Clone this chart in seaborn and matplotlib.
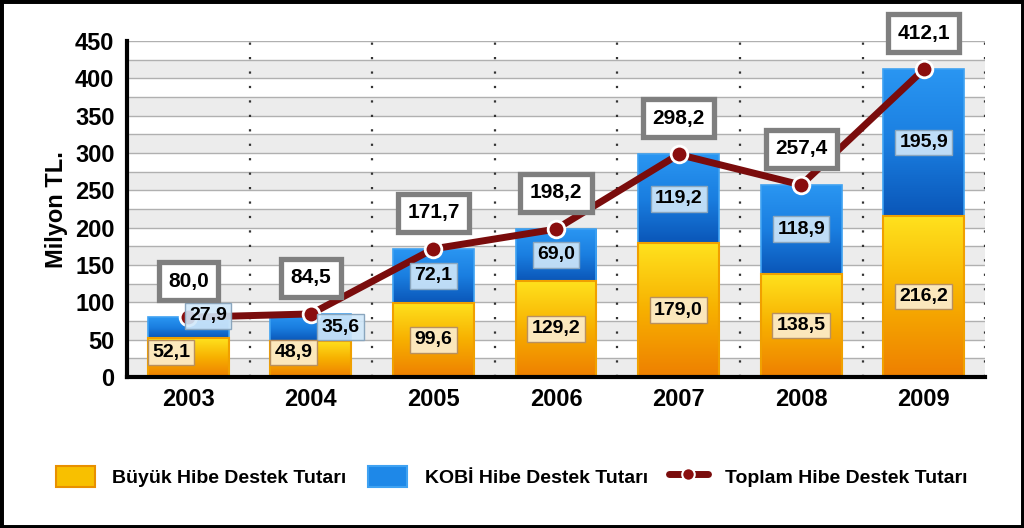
import numpy as np
import pandas as pd
import matplotlib
matplotlib.use("Agg")
import matplotlib.pyplot as plt
import seaborn as sns
from matplotlib.colors import LinearSegmentedColormap
from matplotlib.patches import Rectangle, Patch
from matplotlib.lines import Line2D

# ---- data ----
years = ["2003", "2004", "2005", "2006", "2007", "2008", "2009"]
buyuk = [52.1, 48.9, 99.6, 129.2, 179.0, 138.5, 216.2]
kobi = [27.9, 35.6, 72.1, 69.0, 119.2, 118.9, 195.9]
toplam = [80.0, 84.5, 171.7, 198.2, 298.2, 257.4, 412.1]
y_ticks = [0, 50, 100, 150, 200, 250, 300, 350, 400, 450]
legend_labels = ["Büyük Hibe Destek Tutarı", "KOBİ Hibe Destek Tutarı", "Toplam Hibe Destek Tutarı"]
y_label = "Milyon TL."

sns.set_theme(style="white")
plt.rcParams['font.family'] = ['Liberation Sans', 'DejaVu Sans']
plt.rcParams['text.color'] = 'black'
plt.rcParams['xtick.color'] = 'black'
plt.rcParams['ytick.color'] = 'black'
plt.rcParams['axes.labelcolor'] = 'black'

def fmt(v):
    return f"{v:.1f}".replace(".", ",")

df = pd.DataFrame({"year": years, "buyuk": buyuk, "kobi": kobi, "toplam": toplam})

fig = plt.figure(figsize=(10.24, 5.28), dpi=100)
ax = fig.add_axes([0.124, 0.286, 0.838, 0.636])

bar_w = 0.66
n0 = len(ax.patches)
sns.barplot(data=df, x="year", y="toplam", color="#1E88E8", width=bar_w,
            edgecolor="#3FA2F2", linewidth=1.2, ax=ax, zorder=2, saturation=1)
n1 = len(ax.patches)
sns.barplot(data=df, x="year", y="buyuk", color="#F8C000", width=bar_w,
            edgecolor="#F0A000", linewidth=1.5, ax=ax, zorder=3, saturation=1)
n2 = len(ax.patches)
blue_p = list(ax.patches)[n0:n1]
yel_p = list(ax.patches)[n1:n2]

# background bands + grid
for lo in range(0, 450, 50):
    ax.axhspan(lo, lo + 25, color="#ECECEC", zorder=0, lw=0)
for g in np.arange(25, 451, 25):
    ax.axhline(g, color="#B0B0B0", lw=1.0, zorder=0.5)
for b in np.arange(0.5, 7.0, 1.0):
    ax.axvline(b, color="#333333", lw=1.6, ls=(0, (1, 5.5)), zorder=0.6)

cmap_blue = LinearSegmentedColormap.from_list("b", ["#0A56B8", "#1A7EE0", "#2A96F2"])
cmap_yel = LinearSegmentedColormap.from_list("y", ["#EE7F00", "#F7B000", "#FFE21E"])
grad = np.linspace(0, 1, 256).reshape(-1, 1)
for i, p in enumerate(blue_p):
    x0, w = p.get_x(), p.get_width()
    ax.imshow(grad, extent=[x0, x0 + w, buyuk[i], toplam[i]], origin="lower",
              cmap=cmap_blue, aspect="auto", zorder=2.1, interpolation="bilinear")
    p.set_facecolor("none")
    p.set_zorder(2.2)
for i, p in enumerate(yel_p):
    x0, w = p.get_x(), p.get_width()
    ax.imshow(grad, extent=[x0, x0 + w, 0, buyuk[i]], origin="lower",
              cmap=cmap_yel, aspect="auto", zorder=3.1, interpolation="bilinear")
    p.set_facecolor("none")
    p.set_zorder(3.2)

# total line
xpos = np.arange(len(years))
sns.lineplot(x=xpos, y=toplam, ax=ax, color="#7A0C0C", lw=5, zorder=5,
             marker="o", markersize=12, markerfacecolor="#8A0E0E",
             markeredgecolor="white", markeredgewidth=2, legend=False)

ax.set_xlim(-0.5, 6.5)
ax.set_ylim(0, 450)

# labels
for i in range(len(years)):
    ax.annotate(fmt(toplam[i]), (i, toplam[i]), xytext=(0, 26), textcoords="offset points",
                ha="center", va="center", fontsize=15, fontweight="bold", color="black",
                zorder=7,
                bbox=dict(boxstyle="square,pad=0.45", fc="white", ec="#7F7F7F", lw=3.8))
    # KOBI labels
    if kobi[i] < 40:
        kx = i + 0.16 + (0.08 if i == 1 else 0)
        ky = buyuk[i] + kobi[i] * 0.5 + (16 if i == 0 else 0)
    else:
        kx = i
        ky = buyuk[i] + kobi[i] * 0.5
    ax.text(kx, ky, fmt(kobi[i]), ha="center", va="center", fontsize=14, fontweight="bold",
            color="black", zorder=6,
            bbox=dict(boxstyle="square,pad=0.22", fc=(0.82, 0.91, 0.98, 0.9), ec="#8AA6BE", lw=1))
    # Buyuk labels
    if buyuk[i] < 60:
        bx = i - 0.14
        by = 33
    else:
        bx = i
        by = buyuk[i] * 0.5
    ax.text(bx, by, fmt(buyuk[i]), ha="center", va="center", fontsize=14, fontweight="bold",
            color="black", zorder=6,
            bbox=dict(boxstyle="square,pad=0.22", fc=(0.99, 0.92, 0.78, 0.95), ec="#B89060", lw=1))

# axes styling
sns.despine(ax=ax, top=True, right=True)
for s in ["left", "bottom"]:
    ax.spines[s].set_linewidth(3)
    ax.spines[s].set_color("black")
    ax.spines[s].set_zorder(8)
ax.set_yticks(y_ticks)
ax.set_yticklabels([str(t) for t in y_ticks], fontsize=17, fontweight="bold")
ax.set_xticks(xpos)
ax.set_xticklabels(years, fontsize=17, fontweight="bold")
ax.set_xticks(np.arange(0.5, 6.0, 1.0), minor=True)
ax.tick_params(axis="x", which="major", length=0, pad=8)
ax.tick_params(axis="x", which="minor", length=9, width=3, color="black", direction="out")
ax.tick_params(axis="y", which="major", length=7, width=3, color="black", direction="out", pad=2)
ax.set_xlabel("")
ax.set_ylabel(y_label, fontsize=17, fontweight="bold", labelpad=5)
ax.grid(False)

# legend
handles = [
    Patch(facecolor="#F8C000", edgecolor="#E89000", lw=1.5),
    Patch(facecolor="#1E88E8", edgecolor="#3FA2F2", lw=1.5),
    Line2D([0], [0], color="#7A0C0C", lw=5, marker="o", markersize=9,
           markerfacecolor="#8A0E0E", markeredgecolor="white", markeredgewidth=1.5),
]
leg = fig.legend(handles, legend_labels, loc="center", bbox_to_anchor=(0.5, 0.098), ncol=3,
                 frameon=False, handlelength=2.0, handleheight=1.3, columnspacing=1.1,
                 handletextpad=0.9,
                 prop={"family": ["Liberation Sans"], "weight": "bold", "size": 14})

fig.add_artist(Rectangle((0, 0), 1, 1, transform=fig.transFigure, fill=False,
                         ec="black", lw=5, zorder=10))

fig.savefig("out.png", dpi=100)
